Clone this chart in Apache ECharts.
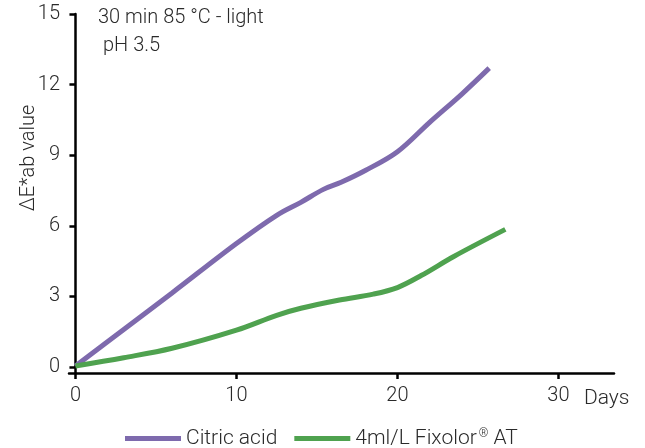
<!DOCTYPE html>
<html>
<head>
<meta charset="utf-8">
<script src="https://cdn.jsdelivr.net/npm/echarts@6/dist/echarts.min.js"></script>
<style>html,body{margin:0;padding:0;background:#fff}#c{width:645px;height:448px}</style>
</head>
<body>
<div id="c"></div>
<script>
const seriesNames = ['Citric acid', '4ml/L Fixolor® AT'];
const citricDays = [0, 3, 6, 10, 12.5, 14, 15.4, 16.5, 18, 20, 22, 24, 25.7];
const citricValues = [0.05, 1.6, 3.15, 5.25, 6.45, 7.0, 7.55, 7.85, 8.35, 9.15, 10.4, 11.6, 12.7];
const fixolorDays = [0, 3, 6, 10, 12.5, 14, 16.4, 18.5, 20, 21.5, 23.5, 26.7];
const fixolorValues = [0.05, 0.4, 0.8, 1.57, 2.2, 2.5, 2.85, 3.1, 3.38, 3.9, 4.7, 5.85];
const xTicks = [0, 10, 20, 30];
const yTicks = [0, 3, 6, 9, 12, 15];
const annotation = ['30 min 85 °C - light', 'pH 3.5'];
const yTitle = 'ΔE*ab value';
const xUnit = 'Days';

const zip = (xs, ys) => xs.map((x, i) => [x, ys[i]]);
const font = 'Roboto, "Liberation Sans", sans-serif';
const textColor = '#2a2a2a';

const chart = echarts.init(document.getElementById('c'));
chart.setOption({
  animation: false,
  grid: { left: 69, right: 31, top: 14, bottom: 75 },
  xAxis: {
    type: 'value', min: -0.4, max: 33.45,
    axisLine: { onZero: false, lineStyle: { color: '#000', width: 2.5 } },
    axisTick: { customValues: xTicks, length: 6, lineStyle: { color: '#000', width: 2.5 } },
    axisLabel: { customValues: xTicks, color: textColor, fontFamily: font, fontWeight: 300, fontSize: 20, margin: 13 },
    splitLine: { show: false }
  },
  yAxis: {
    type: 'value', min: -0.25, max: 15,
    axisLine: { onZero: true, lineStyle: { color: '#000', width: 2.5 } },
    axisTick: { customValues: yTicks, length: 6, lineStyle: { color: '#000', width: 2.5 } },
    axisLabel: { customValues: yTicks, color: textColor, fontFamily: font, fontWeight: 300, fontSize: 20, margin: 9 },
    splitLine: { show: false }
  },
  legend: {
    left: 125, top: 428, padding: 0, icon: 'rect', itemWidth: 56, itemHeight: 5, itemGap: 17,
    textStyle: {
      color: textColor, fontFamily: font, fontWeight: 300, fontSize: 21,
      rich: { sup: { fontSize: 12, verticalAlign: 'top', padding: [0, 0, 9, 2], color: textColor, fontFamily: font } }
    },
    formatter: n => n.replace('® ', '{sup|®} '),
    data: seriesNames
  },
  series: [
    { name: seriesNames[0], type: 'line', data: zip(citricDays, citricValues), smooth: 0.35, showSymbol: false,
      color: '#7e6aad', lineStyle: { width: 5, cap: 'butt' } },
    { name: seriesNames[1], type: 'line', data: zip(fixolorDays, fixolorValues), smooth: 0.35, showSymbol: false,
      color: '#4fa24f', lineStyle: { width: 5, cap: 'butt' } }
  ],
  graphic: [
    { type: 'text', left: 98, top: 8, style: { text: annotation[0], fill: textColor, font: '300 20px ' + font } },
    { type: 'text', left: 103, top: 36, style: { text: annotation[1], fill: textColor, font: '300 20px ' + font } },
    { type: 'text', x: 29, y: 158, rotation: Math.PI / 2,
      style: { text: yTitle, fill: textColor, font: '300 20px ' + font, align: 'center', verticalAlign: 'middle' } },
    { type: 'text', left: 584, top: 388, style: { text: xUnit, fill: textColor, font: '300 21px ' + font } }
  ]
});
</script>
</body>
</html>
